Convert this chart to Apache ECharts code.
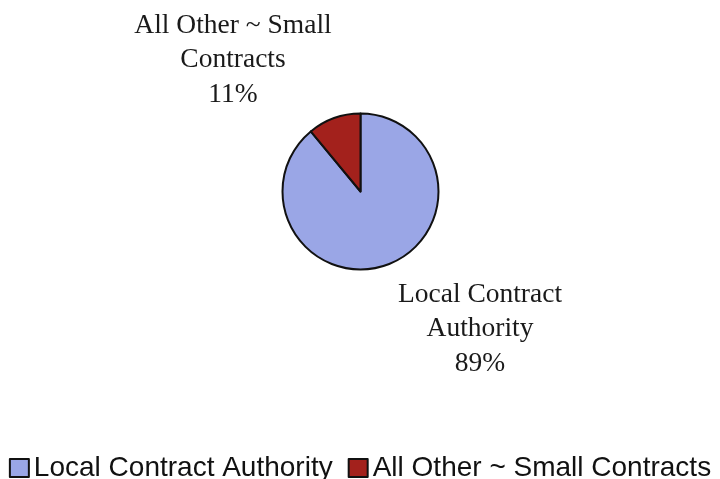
<!DOCTYPE html>
<html>
<head>
<meta charset="utf-8">
<script src="https://cdn.jsdelivr.net/npm/echarts@6/dist/echarts.min.js"></script>
<style>
  html, body { margin: 0; padding: 0; background: #ffffff; }
  #chart { width: 720px; height: 479px; }
</style>
</head>
<body>
<div id="chart"></div>
<script>
// ---- data ----
const categories = ['Local Contract Authority', 'All Other ~ Small Contracts'];
const shares = [89, 11];
const labelTexts = ['Local Contract\nAuthority', 'All Other ~ Small\nContracts'];
const sliceColors = ['#9aa6e6', '#a3211c'];

// label anchor positions (layout only)
const labelAnchors = [[480, 329], [233, 60]];

const chart = echarts.init(document.getElementById('chart'), null, { renderer: 'canvas' });

const option = {
  backgroundColor: '#ffffff',
  animation: false,
  color: sliceColors,
  legend: {
    data: categories,
    left: 'center',
    top: 454,
    width: 720,
    padding: 0,
    icon: 'rect',
    itemWidth: 19,
    itemHeight: 18,
    itemGap: 15,
    itemStyle: { borderColor: '#111111', borderWidth: 2 },
    textStyle: {
      fontFamily: 'Liberation Sans, Arial, sans-serif',
      fontSize: 28,
      color: '#111111'
    }
  },
  series: [{
    type: 'pie',
    center: [360.5, 191.5],
    radius: [0, 78],
    startAngle: 90,
    clockwise: true,
    itemStyle: { borderColor: '#111111', borderWidth: 2 },
    label: {
      show: true,
      position: 'outside',
      fontFamily: 'Liberation Serif, Times New Roman, serif',
      fontSize: 27.5,
      lineHeight: 34.5,
      color: '#1a1a1a',
      align: 'center',
      formatter: p => labelTexts[p.dataIndex] + '\n' + p.value + '%'
    },
    labelLine: { show: false },
    labelLayout: params => ({
      x: labelAnchors[params.dataIndex][0],
      y: labelAnchors[params.dataIndex][1],
      align: 'center',
      verticalAlign: 'middle'
    }),
    emphasis: { disabled: true },
    data: categories.map((c, i) => ({ name: c, value: shares[i] }))
  }]
};

chart.setOption(option);
</script>
</body>
</html>
